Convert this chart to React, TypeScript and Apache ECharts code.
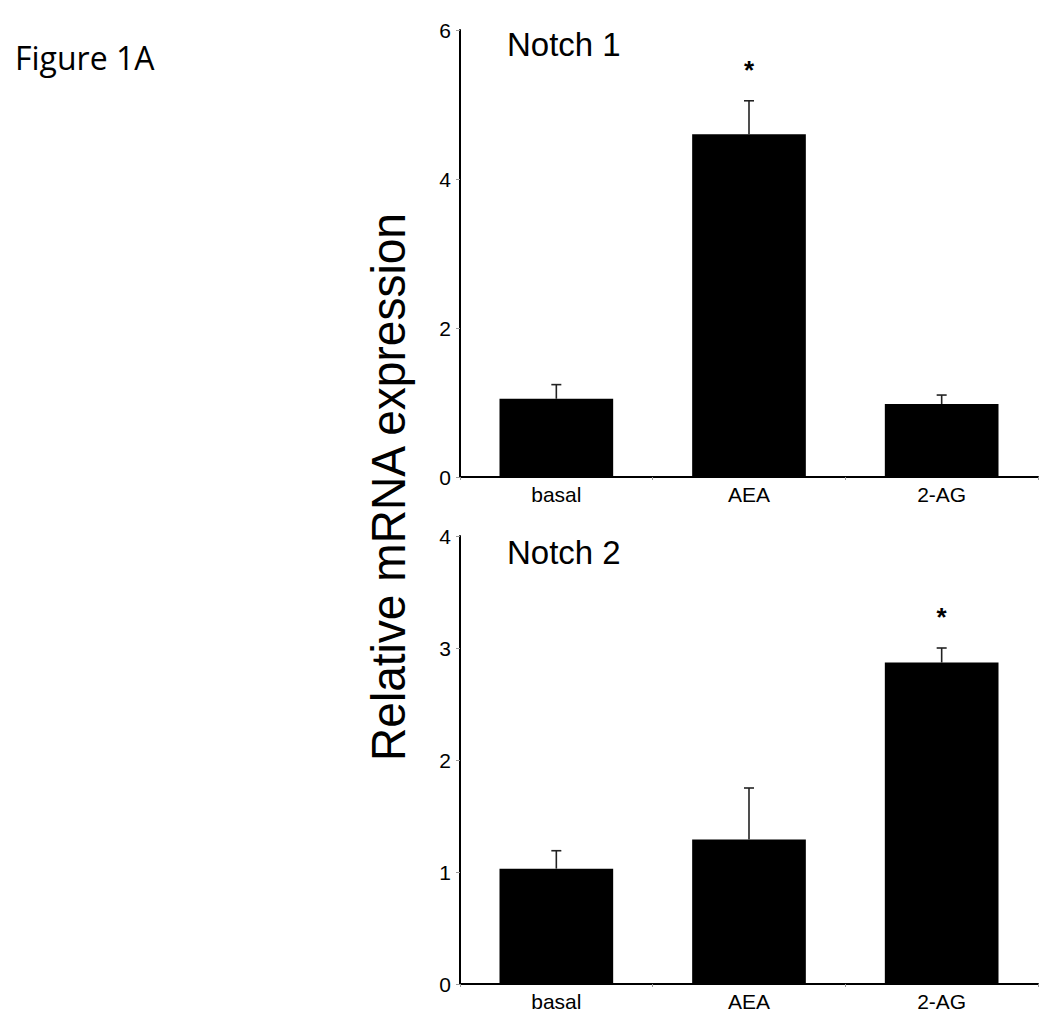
import React, { useEffect, useRef } from "react";
import * as echarts from "echarts";

const categories = ["basal", "AEA", "2-AG"];
const notch1Values = [1.05, 4.6, 0.98];
const notch1Errors = [0.19, 0.45, 0.12];
const notch1Sig = ["", "*", ""];
const notch2Values = [1.03, 1.29, 2.87];
const notch2Errors = [0.16, 0.46, 0.13];
const notch2Sig = ["", "", "*"];
const notch1Axis = { min: 0, max: 6, interval: 2 };
const notch2Axis = { min: 0, max: 4, interval: 1 };
const titles = ["Notch 1", "Notch 2"];
const figureLabel = "Figure 1A";
const yAxisTitle = "Relative mRNA expression";

const FONT = "'Liberation Sans', Arial, Helvetica, sans-serif";

function errorSeries(gridIdx: number, values: number[], errors: number[], sig: string[]) {
  return {
    type: "custom",
    xAxisIndex: gridIdx,
    yAxisIndex: gridIdx,
    z: 5,
    encode: { x: 0, y: 1 },
    data: values.map((v, i) => [i, v, errors[i]]),
    renderItem: (params: any, api: any) => {
      const i = api.value(0);
      const v = api.value(1);
      const e = api.value(2);
      const base = api.coord([i, v]);
      const top = api.coord([i, v + e]);
      const style = { stroke: "#222", lineWidth: 1.6 };
      const children: any[] = [
        { type: "line", shape: { x1: base[0], y1: base[1], x2: top[0], y2: top[1] }, style },
        { type: "line", shape: { x1: top[0] - 5, y1: top[1], x2: top[0] + 5, y2: top[1] }, style },
      ];
      const s = sig[params.dataIndex];
      if (s) {
        children.push({
          type: "text",
          style: {
            text: s,
            x: top[0],
            y: top[1] - 31,
            fill: "#000",
            font: `bold 26px ${FONT}`,
            align: "center",
            verticalAlign: "middle",
          },
        });
      }
      return { type: "group", children };
    },
  };
}

function xAxisFor(gridIndex: number) {
  return {
    type: "category",
    gridIndex,
    data: categories,
    boundaryGap: true,
    axisLine: { show: true, lineStyle: { color: "#000", width: 2 } },
    axisTick: { show: true, length: 3, lineStyle: { color: "#999", width: 1 } },
    axisLabel: { color: "#000", fontSize: 21, fontFamily: FONT, margin: 7 },
    splitLine: { show: false },
  };
}

function yAxisFor(gridIndex: number, cfg: { min: number; max: number; interval: number }) {
  return {
    type: "value",
    gridIndex,
    min: cfg.min,
    max: cfg.max,
    interval: cfg.interval,
    axisLine: { show: true, lineStyle: { color: "#000", width: 2 } },
    axisTick: { show: true, length: 4, lineStyle: { color: "#999", width: 1 } },
    axisLabel: { color: "#000", fontSize: 21, fontFamily: FONT, margin: 9 },
    splitLine: { show: false },
  };
}

export default function App() {
  const ref = useRef<HTMLDivElement>(null);
  useEffect(() => {
    if (!ref.current) return;
    const chart = echarts.init(ref.current, null, { renderer: "svg" });
    chart.setOption({
      animation: false,
      backgroundColor: "#fff",
      grid: [
        { left: 460, top: 30, width: 578, height: 447 },
        { left: 460, top: 536, width: 578, height: 448 },
      ],
      xAxis: [xAxisFor(0), xAxisFor(1)],
      yAxis: [yAxisFor(0, notch1Axis), yAxisFor(1, notch2Axis)],
      series: [
        {
          type: "bar",
          xAxisIndex: 0,
          yAxisIndex: 0,
          data: notch1Values,
          barWidth: "59%",
          itemStyle: { color: "#000" },
        },
        errorSeries(0, notch1Values, notch1Errors, notch1Sig),
        {
          type: "bar",
          xAxisIndex: 1,
          yAxisIndex: 1,
          data: notch2Values,
          barWidth: "59%",
          itemStyle: { color: "#000" },
        },
        errorSeries(1, notch2Values, notch2Errors, notch2Sig),
      ],
      graphic: [
        {
          type: "text",
          x: 15,
          y: 57,
          style: {
            text: figureLabel,
            fill: "#000",
            font: "32px 'Open Sans', sans-serif",
            verticalAlign: "middle",
          },
        },
        {
          type: "text",
          x: 507,
          y: 44,
          style: { text: titles[0], fill: "#000", font: `33px ${FONT}`, verticalAlign: "middle" },
        },
        {
          type: "text",
          x: 507,
          y: 552,
          style: { text: titles[1], fill: "#000", font: `33px ${FONT}`, verticalAlign: "middle" },
        },
        {
          type: "text",
          x: 388,
          y: 487,
          rotation: Math.PI / 2,
          scaleX: 0.96,
          style: {
            text: yAxisTitle,
            fill: "#000",
            font: `48px ${FONT}`,
            align: "center",
            verticalAlign: "middle",
          },
        },
      ],
    });
    return () => chart.dispose();
  }, []);
  return (
    <div
      ref={ref}
      style={{ position: "absolute", left: 0, top: 0, width: 1050, height: 1025, background: "#fff" }}
    />
  );
}
